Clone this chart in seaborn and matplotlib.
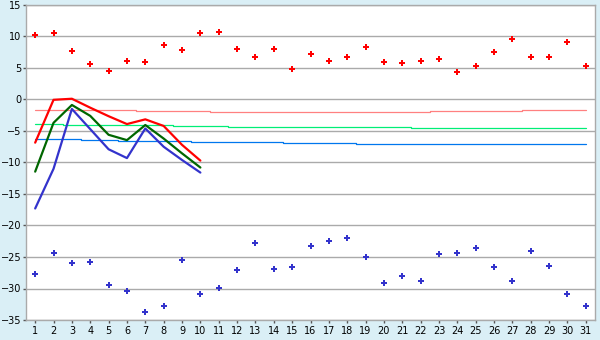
import matplotlib
matplotlib.use("Agg")
import matplotlib.pyplot as plt
import seaborn as sns
import numpy as np
import pandas as pd

days = list(range(1, 32))

max_points = [10.2, 10.5, 7.65, 5.6, 4.5, 6.1, 5.9, 8.6, 7.8, 10.5,
              10.7, 7.95, 6.7, 7.95, 4.8, 7.2, 6.05, 6.7, 8.3, 5.9,
              5.75, 6.05, 6.4, 4.3, 5.25, 7.5, 9.55, 6.7, 6.7, 9.1, 5.25]

min_points = [-27.75, -24.4, -26.0, -25.85, -29.5, -30.45, -33.8, -32.8, -25.5, -30.9,
              -29.97, -27.1, -22.7, -26.95, -26.6, -23.3, -22.5, -22.0, -25.05, -29.2,
              -28.06, -28.86, -24.6, -24.4, -23.6, -26.6, -28.86, -24.1, -26.5, -30.8, -32.8]

line_days = list(range(1, 11))
max_line = [-6.85, -0.05, 0.12, -1.3, -2.65, -3.9, -3.15, -4.2, -7.2, -9.7]
mean_line = [-11.45, -3.7, -0.87, -2.6, -5.6, -6.45, -4.05, -6.2, -8.55, -10.8]
min_line = [-17.3, -11.0, -1.5, -4.7, -7.9, -9.3, -4.6, -7.5, -9.6, -11.6]

norm_max = [-1.67] * 6 + [-1.85] * 4 + [-2.03] * 12 + [-1.87] * 5 + [-1.71] * 4
norm_mean = [-3.94] * 2 + [-4.1] * 6 + [-4.25] * 3 + [-4.41] * 10 + [-4.57] * 10
norm_min = [-6.32] * 3 + [-6.48] * 2 + [-6.63] * 4 + [-6.79] * 5 + [-6.95] * 4 + [-7.11] * 13

y_ticks = list(range(-35, 20, 5))

sns.set_style("white")
plt.rcParams['font.family'] = ['DejaVu Sans']

fig = plt.figure(figsize=(6, 3.4), dpi=100, facecolor="#daeff6")
ax = fig.add_axes([26/600, 1 - 320/340, (595-26)/600, (320-5)/340])
ax.set_facecolor("white")

df_norm = pd.DataFrame({"day": days, "nmax": norm_max, "nmean": norm_mean, "nmin": norm_min})
sns.lineplot(data=df_norm, x="day", y="nmax", ax=ax, color="#ff8080", linewidth=0.9,
             drawstyle="steps-mid", zorder=2)
sns.lineplot(data=df_norm, x="day", y="nmean", ax=ax, color="#00ee77", linewidth=0.9,
             drawstyle="steps-mid", zorder=2)
sns.lineplot(data=df_norm, x="day", y="nmin", ax=ax, color="#0077ee", linewidth=0.9,
             drawstyle="steps-mid", zorder=2)

df_line = pd.DataFrame({"day": line_days, "max": max_line, "mean": mean_line, "min": min_line})
sns.lineplot(data=df_line, x="day", y="min", ax=ax, color="#3333cc", linewidth=1.6, zorder=3)
sns.lineplot(data=df_line, x="day", y="mean", ax=ax, color="#006600", linewidth=1.6, zorder=4)
sns.lineplot(data=df_line, x="day", y="max", ax=ax, color="#ff0000", linewidth=1.6, zorder=5)

df_pts = pd.DataFrame({"day": days, "maxp": max_points, "minp": min_points})
sns.scatterplot(data=df_pts, x="day", y="maxp", ax=ax, color="#ff0000", marker="P",
                s=24, linewidth=0, zorder=6)
sns.scatterplot(data=df_pts, x="day", y="minp", ax=ax, color="#3333cc", marker="P",
                s=24, linewidth=0, zorder=6)

ax.set_xlim(0.5, 31.5)
ax.set_ylim(-35, 15)
ax.set_yticks(y_ticks)
ax.set_xticks(days)
ax.set_xticklabels([str(d) for d in days])
ax.yaxis.grid(True, color="#aaaaaa", linewidth=1.0)
ax.xaxis.grid(False)
ax.set_axisbelow(True)
for s in ax.spines.values():
    s.set_color("#aaaaaa")
    s.set_linewidth(1.0)
ax.tick_params(axis="both", which="both", length=2.5, width=1, color="#555555",
               labelsize=7, labelcolor="#000000", pad=1.5)
ax.tick_params(axis="x", bottom=True, direction="out")
ax.tick_params(axis="y", left=True, direction="out", pad=1)
ax.set_xlabel("")
ax.set_ylabel("")

fig.savefig("out.png", dpi=100, facecolor=fig.get_facecolor())
